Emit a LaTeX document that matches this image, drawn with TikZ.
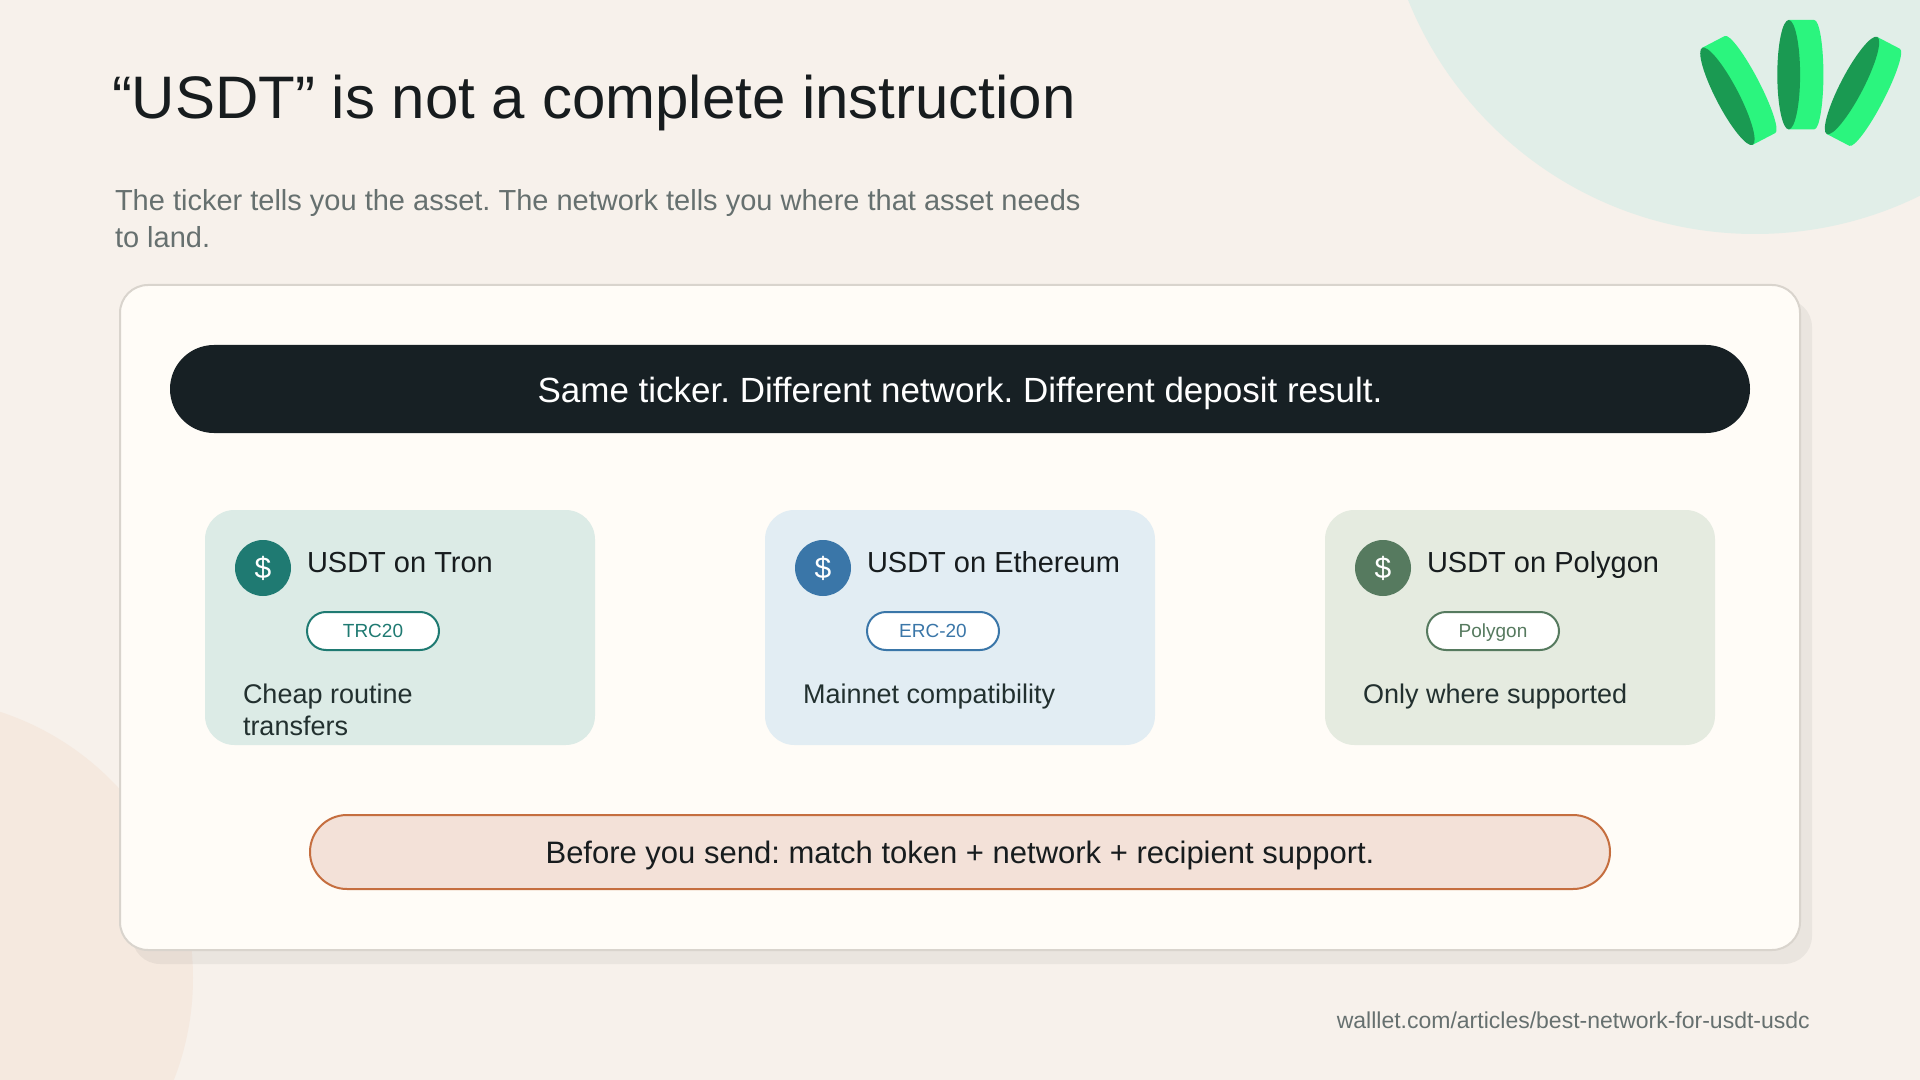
\documentclass[tikz,border=0pt]{standalone}
\usepackage{fontspec}
\setmainfont{Liberation Sans}
\frenchspacing
\definecolor{pagebg}{HTML}{F7F1EB}
\definecolor{blobgreen}{HTML}{E1EEE8}
\definecolor{blobpeach}{HTML}{F5E9DF}
\definecolor{cardbg}{HTML}{FFFCF7}
\definecolor{cardline}{HTML}{D9D4CD}
\definecolor{barbg}{HTML}{172024}
\definecolor{ink}{HTML}{171C1E}
\definecolor{subink}{HTML}{66706F}
\definecolor{bodyink}{HTML}{22302F}
\definecolor{tealA}{HTML}{1F7A72}
\definecolor{blueA}{HTML}{3A76A8}
\definecolor{greenA}{HTML}{567A5F}
\definecolor{tileA}{HTML}{DCEBE6}
\definecolor{tileB}{HTML}{E2EDF3}
\definecolor{tileC}{HTML}{E5EBE0}
\definecolor{warnbg}{HTML}{F3E1D8}
\definecolor{warnline}{HTML}{C56E3F}
\definecolor{logolight}{HTML}{2BF57E}
\definecolor{logodark}{HTML}{1A9A52}
\newcommand{\fsz}[1]{\fontsize{#1}{#1}\selectfont}
\newcommand{\logoseg}[3]{%
  \begin{scope}[shift={(#1,#2)},rotate=#3]
    \fill[logolight] (0,-54.7) -- (25.5,-54.7)
      .. controls (30.6,-54.7) and (34.7,-30) .. (34.7,0)
      .. controls (34.7,30) and (30.6,54.7) .. (25.5,54.7) -- (0,54.7) -- cycle;
    \fill[logodark] (0,-54.7)
      .. controls (6.3,-54.7) and (11.4,-30) .. (11.4,0)
      .. controls (11.4,30) and (6.3,54.7) .. (0,54.7)
      .. controls (-6.3,54.7) and (-11.4,30) .. (-11.4,0)
      .. controls (-11.4,-30) and (-6.3,-54.7) .. (0,-54.7) -- cycle;
  \end{scope}}
\tikzset{
  textnode/.style={inner sep=0pt,outer sep=0pt,anchor=base west,align=left},
  tile/.style={inner sep=0pt,minimum width=292.5pt,minimum height=176.25pt,rounded corners=22pt},
  coin/.style={circle,inner sep=0pt,minimum size=42pt,text=white,font=\fsz{22.5},text height=15.3pt,text depth=0pt},
  tag/.style={draw,fill=white,line width=1.5pt,inner sep=0pt,minimum width=99pt,minimum height=28.5pt,rounded corners=14.25pt,font=\fsz{14.25},text height=10.3pt,text depth=0pt},
  tiletitle/.style={textnode,text=ink,font=\fsz{21.75}},
  tilebody/.style={textnode,text=bodyink,font=\fsz{20.25}},
}
\begin{document}
\begin{tikzpicture}[x=0.75pt,y=-0.75pt]
\useasboundingbox (0,0) rectangle (1920,1080);
\fill[pagebg] (0,0) rectangle (1920,1080);
\begin{scope}
  \clip (0,0) rectangle (1920,1080);
  \fill[blobgreen] (1755,-140) circle[radius=280.5pt];
  \fill[blobpeach] (-87,978) circle[radius=210pt];
\end{scope}
% logo
\logoseg{1727.4}{96.3}{27.5}
\logoseg{1788.7}{74.7}{0}
\logoseg{1852}{85.5}{-27.5}
% heading
\node[textnode,text=ink,font=\fsz{45}] (title) at (112,119) {“USDT” is not a complete instruction};
\node[textnode,text=subink,font=\fsz{21.75}] (subA) at (115,211) {The ticker tells you the asset. The network tells you where that asset needs};
\node[textnode,text=subink,font=\fsz{21.75}] (subB) at (115,248) {to land.};
% panel
\node[fill=black!88!teal,fill opacity=.05,inner sep=0pt,minimum width=1260pt,minimum height=498.75pt,rounded corners=21pt] (panelshadow) at (972,631.5) {};
\node[draw=cardline,fill=cardbg,line width=1.5pt,inner sep=0pt,minimum width=1260pt,minimum height=498.75pt,rounded corners=21pt] (panel) at (960,617.5) {};
\node[fill=barbg,text=white,font=\fsz{26.25},text height=19.8pt,text depth=0pt,inner sep=0pt,minimum width=1185pt,minimum height=66pt,rounded corners=33pt] (bar) at (960,389) {Same ticker. Different network. Different deposit result.};
% tiles
\node[tile,fill=tileA] (tileone) at (400,627.5) {};
\node[coin,fill=tealA] (coinone) at (263,568) {\$};
\node[tiletitle] (titleone) at (307,572) {USDT on Tron};
\node[tag,draw=tealA,text=tealA] (tagone) at (373,631) {TRC20};
\node[tilebody] (bodyone) at (243,703.5) {Cheap routine};
\node[tilebody] (bodyoneb) at (243,735.5) {transfers};

\node[tile,fill=tileB] (tiletwo) at (960,627.5) {};
\node[coin,fill=blueA] (cointwo) at (823,568) {\$};
\node[tiletitle] (titletwo) at (867,572) {USDT on Ethereum};
\node[tag,draw=blueA,text=blueA] (tagtwo) at (933,631) {ERC-20};
\node[tilebody] (bodytwo) at (803,703.5) {Mainnet compatibility};

\node[tile,fill=tileC] (tilethree) at (1520,627.5) {};
\node[coin,fill=greenA] (cointhree) at (1383,568) {\$};
\node[tiletitle] (titlethree) at (1427,572) {USDT on Polygon};
\node[tag,draw=greenA,text=greenA] (tagthree) at (1493,631) {Polygon};
\node[tilebody] (bodythree) at (1363,703.5) {Only where supported};
% warning pill
\node[draw=warnline,fill=warnbg,text=ink,line width=1.5pt,font=\fsz{23.25},text height=16.6pt,text depth=0pt,inner sep=0pt,minimum width=975pt,minimum height=55.5pt,rounded corners=27.75pt] (warn) at (960,852) {Before you send: match token + network + recipient support.};
% footer
\node[inner sep=0pt,anchor=base east,text=subink,font=\fsz{17.25}] (footer) at (1810,1028) {walllet.com/articles/best-network-for-usdt-usdc};
\end{tikzpicture}
\end{document}
